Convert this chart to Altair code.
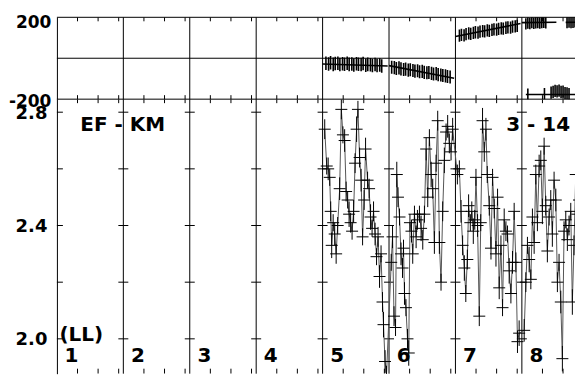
import altair as alt
import pandas as pd

# ---------------- layout categories ----------------
seg_starts = [1, 2, 3, 4, 5, 6, 7, 8]
seg_labels = ["1", "2", "3", "4", "5", "6", "7", "8"]
inner_bounds = [2, 3, 4, 5, 6, 7, 8]
tick_offsets = [0.31, 0.62, 0.93]
bot_levels = [2.0, 2.2, 2.4, 2.6, 2.8]
top_levels = [-200, 200]

# ---------------- top panel data ----------------
top5_x = [5.05, 5.09, 5.12, 5.16, 5.19, 5.23, 5.26, 5.30, 5.33, 5.37, 5.40, 5.44, 5.47,
          5.51, 5.54, 5.58, 5.61, 5.65, 5.68, 5.72, 5.75, 5.79, 5.82, 5.86, 5.89]
top5_y = [-24, -28, -22, -30, -26, -25, -31, -27, -29, -24, -30, -28, -33,
          -27, -29, -31, -26, -34, -30, -32, -35, -31, -36, -33, -38]
top6_x = [6.04, 6.08, 6.11, 6.15, 6.18, 6.22, 6.25, 6.29, 6.32, 6.36, 6.39, 6.43, 6.46,
          6.50, 6.53, 6.57, 6.60, 6.64, 6.67, 6.71, 6.74, 6.78, 6.81, 6.85, 6.88, 6.92]
top6_y = [-44, -46, -50, -47, -52, -55, -53, -58, -56, -60, -63, -61, -66,
          -64, -69, -71, -70, -74, -77, -75, -80, -82, -84, -86, -89, -92]
top7_x = [7.06, 7.09, 7.13, 7.16, 7.20, 7.23, 7.27, 7.30, 7.34, 7.37, 7.41, 7.44, 7.48,
          7.51, 7.55, 7.58, 7.62, 7.65, 7.69, 7.72, 7.76, 7.79, 7.83, 7.86, 7.90, 7.93]
top7_y = [110, 114, 112, 118, 121, 119, 124, 127, 125, 130, 133, 131, 136,
          134, 139, 141, 140, 144, 146, 145, 149, 151, 150, 154, 156, 158]
top8a_x = [8.06, 8.09, 8.12, 8.15, 8.18, 8.21, 8.24, 8.27, 8.30, 8.33, 8.36,
           8.68, 8.71, 8.74, 8.77, 8.80, 8.83, 8.86, 8.89]
top8a_y = [168, 172, 170, 174, 171, 173, 175, 172, 174, 176, 173,
           175, 177, 174, 176, 178, 175, 177, 176]
top8b_x = [8.09, 8.34, 8.44, 8.47, 8.50, 8.53, 8.56, 8.59, 8.62, 8.65, 8.68, 8.71]
top8b_y = [-178, -176, -168, -164, -160, -162, -158, -165, -163, -170, -172, -175]
top_err = {"5": 33, "6": 32, "7": 30, "8a": 28, "8b": 30}

fit_grp = ["s5", "s5", "s6", "s6", "s7", "s7", "s8a", "s8a", "s8b", "s8b", "s8c", "s8c"]
fit_x = [5.0, 5.98, 6.0, 6.98, 7.0, 7.98, 8.0, 8.52, 8.66, 8.95, 8.06, 8.95]
fit_y = [-28, -38, -36, -98, 106, 170, 174, 176, 175, 176, -177, -177]

# ---------------- bottom panel data ----------------
bot5_x = [5.032, 5.062, 5.084, 5.107, 5.122, 5.137, 5.159, 5.182, 5.204, 5.227, 5.257, 5.282,
          5.306, 5.332, 5.354, 5.377, 5.399, 5.422, 5.444, 5.467, 5.489, 5.512, 5.532, 5.557,
          5.580, 5.602, 5.625, 5.647, 5.677, 5.700, 5.722, 5.745, 5.767, 5.790, 5.812, 5.835,
          5.857, 5.880, 5.902, 5.917, 5.940, 5.962]
bot5_v = [2.74, 2.61, 2.60, 2.57, 2.45, 2.33, 2.41, 2.37, 2.30, 2.40, 2.53, 2.81,
          2.72, 2.70, 2.52, 2.49, 2.44, 2.41, 2.38, 2.45, 2.62, 2.74, 2.81, 2.64,
          2.56, 2.36, 2.49, 2.67, 2.56, 2.53, 2.43, 2.39, 2.45, 2.37, 2.29, 2.36,
          2.22, 2.30, 2.13, 2.05, 1.92, 1.87]
bot5_e = [0.035, 0.03, 0.04, 0.03, 0.035, 0.045, 0.03, 0.04, 0.035, 0.03,
          0.04, 0.035, 0.03, 0.04, 0.035, 0.03, 0.045, 0.035, 0.03, 0.04,
          0.035, 0.045, 0.03, 0.035, 0.04, 0.03, 0.035, 0.04, 0.03, 0.035,
          0.045, 0.03, 0.035, 0.04, 0.03, 0.035, 0.04, 0.03, 0.035, 0.045,
          0.04, 0.035]
bot6_x = [6.033, 6.053, 6.075, 6.098, 6.117, 6.135, 6.158, 6.180, 6.203, 6.218, 6.233,
          6.255, 6.278, 6.297, 6.315, 6.338, 6.357, 6.383, 6.408, 6.428, 6.458, 6.483,
          6.508, 6.533, 6.559, 6.583, 6.608, 6.634, 6.658, 6.683, 6.709, 6.733, 6.758,
          6.783, 6.808, 6.833, 6.859, 6.883, 6.908, 6.934, 6.958]
bot6_v = [2.27, 2.36, 2.08, 2.04, 2.58, 2.50, 2.43, 2.30, 2.25, 2.32, 2.16,
          2.11, 2.00, 1.95, 2.41, 2.38, 2.30, 2.44, 2.36, 2.42, 2.44, 2.39,
          2.35, 2.44, 2.67, 2.50, 2.71, 2.58, 2.53, 2.34, 2.62, 2.77, 2.34,
          2.20, 2.45, 2.63, 2.73, 2.75, 2.69, 2.66, 2.74]
bot6_e = [0.03, 0.04, 0.035, 0.03, 0.045, 0.035, 0.03, 0.04, 0.035, 0.03,
          0.04, 0.03, 0.035, 0.045, 0.03, 0.04, 0.035, 0.03, 0.04, 0.035,
          0.03, 0.045, 0.035, 0.03, 0.04, 0.035, 0.03, 0.045, 0.035, 0.04,
          0.03, 0.035, 0.04, 0.03, 0.035, 0.045, 0.03, 0.04, 0.035, 0.03,
          0.04]
bot7_x = [7.029, 7.059, 7.084, 7.108, 7.134, 7.156, 7.179, 7.198, 7.224, 7.246, 7.269,
          7.291, 7.309, 7.333, 7.359, 7.381, 7.408, 7.434, 7.459, 7.479, 7.509, 7.535,
          7.559, 7.584, 7.610, 7.634, 7.659, 7.685, 7.709, 7.734, 7.760, 7.784, 7.809,
          7.835, 7.859, 7.884, 7.910, 7.934, 7.959]
bot7_v = [2.58, 2.60, 2.45, 2.33, 2.25, 2.16, 2.28, 2.47, 2.41, 2.45, 2.38,
          2.42, 2.57, 2.40, 2.08, 2.41, 2.77, 2.66, 2.74, 2.58, 2.47, 2.32,
          2.57, 2.46, 2.30, 2.50, 2.18, 2.33, 2.11, 2.42, 2.38, 2.37, 2.24,
          2.16, 2.27, 2.45, 2.27, 1.99, 2.02]
bot7_e = [0.035, 0.03, 0.04, 0.035, 0.045, 0.03, 0.035, 0.04, 0.03, 0.035,
          0.045, 0.035, 0.03, 0.04, 0.035, 0.03, 0.045, 0.035, 0.04, 0.03,
          0.035, 0.04, 0.03, 0.035, 0.045, 0.03, 0.04, 0.035, 0.03, 0.04,
          0.035, 0.03, 0.045, 0.035, 0.04, 0.03, 0.035, 0.04, 0.045]
bot8_x = [8.035, 8.060, 8.084, 8.110, 8.135, 8.159, 8.185, 8.210, 8.234, 8.260, 8.285,
          8.309, 8.335, 8.360, 8.384, 8.410, 8.435, 8.459, 8.485, 8.511, 8.535, 8.560,
          8.586, 8.610, 8.635, 8.661, 8.685, 8.710, 8.736, 8.760, 8.785, 8.811, 8.835,
          8.860, 8.886, 8.910, 8.935, 8.960]
bot8_v = [2.03, 2.20, 2.33, 2.28, 2.21, 2.43, 2.34, 2.58, 2.41, 2.61, 2.63,
          2.45, 2.68, 2.47, 2.31, 2.43, 2.49, 2.37, 2.56, 2.49, 2.20, 2.27,
          2.13, 1.93, 2.38, 2.42, 2.35, 2.40, 2.45, 2.13, 2.33, 2.58, 2.44,
          2.49, 2.35, 2.55, 2.40, 2.30]
bot8_e = [0.04, 0.035, 0.03, 0.045, 0.035, 0.03, 0.04, 0.035, 0.03, 0.04,
          0.035, 0.045, 0.03, 0.035, 0.04, 0.03, 0.035, 0.045, 0.03, 0.04,
          0.035, 0.03, 0.04, 0.045, 0.035, 0.03, 0.04, 0.035, 0.03, 0.045,
          0.035, 0.04, 0.03, 0.035, 0.04, 0.03, 0.035, 0.04]

ann_text = ["EF - KM", "3 - 14"]
ann_x = [1.353, 7.765]
ann_y = [2.733, 2.733]
ll_text = ["(LL)"]
ll_x = [1.038]
ll_y = [2.014]

# ---------------- tables ----------------
W, H_TOP, H_BOT = 519, 82, 275
FONT = "DejaVu Sans"

top_df = pd.DataFrame({
    "x": top5_x + top6_x + top7_x + top8a_x + top8b_x,
    "y": top5_y + top6_y + top7_y + top8a_y + top8b_y,
    "e": [top_err["5"]] * len(top5_x) + [top_err["6"]] * len(top6_x)
         + [top_err["7"]] * len(top7_x) + [top_err["8a"]] * len(top8a_x)
         + [top_err["8b"]] * len(top8b_x),
})
fit_df = pd.DataFrame({"g": fit_grp, "fx": fit_x, "fy": fit_y})
bot_df = pd.DataFrame({
    "x": bot5_x + bot6_x + bot7_x + bot8_x,
    "v": bot5_v + bot6_v + bot7_v + bot8_v,
    "e": bot5_e + bot6_e + bot7_e + bot8_e,
})
bounds_df = pd.DataFrame({"b": inner_bounds})
ticks_df = pd.DataFrame({"t": [s + o for s in seg_starts for o in tick_offsets]})
cross_df = pd.DataFrame([{"b": b, "lv": lv} for b in inner_bounds for lv in bot_levels])
left_df = pd.DataFrame({"b": [1] * len(bot_levels), "lv": bot_levels})
num_df = pd.DataFrame({"nx": [s + 0.22 for s in seg_starts], "ny": [1.94] * len(seg_starts),
                       "lab": seg_labels})
ann_df = pd.DataFrame({"ax": ann_x, "ay": ann_y, "txt": ann_text})
ll_df = pd.DataFrame({"ax": ll_x, "ay": ll_y, "txt": ll_text})

xsc = alt.Scale(domain=[1, 8.8], nice=False, zero=False)
ysc_top = alt.Scale(domain=[-200, 200], nice=False, zero=False)
ysc_bot = alt.Scale(domain=[1.877, 2.846], nice=False, zero=False)

common_axis = dict(title=None, ticks=False, tickSize=0, grid=False, domain=True,
                   domainColor="black", domainWidth=1, labelFont=FONT,
                   labelFontWeight="bold", labelColor="black", labelOverlap=False,
                   labelBound=False, labelFlush=False, minExtent=49, maxExtent=49)
yax_top = alt.Axis(values=top_levels, labelFontSize=17, labelPadding=6,
                   labelExpr="datum.value < 0 ? '-' + abs(datum.value) : '' + datum.value",
                   labelOffset={"condition": {"test": "datum.value > 0", "value": 5}, "value": 2},
                   **common_axis)
yax_bot = alt.Axis(values=bot_levels, labelFontSize=18, labelPadding=10, labelOffset=1,
                   labelExpr="(round(datum.value*10) % 4 == 0) ? format(datum.value, '.1f') : ''",
                   **common_axis)
XN = dict(scale=xsc, axis=None)

# ---------------- top panel ----------------
t_grid = alt.Chart(bounds_df).mark_rule(color="black", strokeWidth=1).encode(
    x=alt.X("b:Q", **XN))
t_hl = alt.Chart(pd.DataFrame({"yb": [200, 0, -200]})).mark_rule(
    color="black", strokeWidth=1).encode(y=alt.Y("yb:Q", scale=ysc_top, axis=yax_top))
t_tick_top = alt.Chart(ticks_df).mark_rule(color="black", clip=True).encode(
    x=alt.X("t:Q", **XN), y=alt.value(0), y2=alt.value(4))
t_tick_bot = alt.Chart(ticks_df).mark_rule(color="black", clip=True).encode(
    x=alt.X("t:Q", **XN), y=alt.value(H_TOP - 4), y2=alt.value(H_TOP))
t_err = alt.Chart(top_df).transform_calculate(
    lo="datum.y - datum.e", hi="datum.y + datum.e").mark_rule(
    color="black", strokeWidth=1.6, clip=True).encode(
    x=alt.X("x:Q", **XN), y=alt.Y("lo:Q", scale=ysc_top, axis=yax_top), y2="hi:Q")
t_fit = alt.Chart(fit_df).mark_line(color="black", strokeWidth=1.6, clip=True).encode(
    x=alt.X("fx:Q", **XN), y=alt.Y("fy:Q", scale=ysc_top, axis=yax_top), detail="g:N")

top = alt.layer(t_grid, t_hl, t_tick_top, t_tick_bot, t_err, t_fit).properties(
    width=W, height=H_TOP)

# ---------------- bottom panel ----------------
b_grid = alt.Chart(bounds_df).mark_rule(color="black", strokeWidth=1).encode(
    x=alt.X("b:Q", **XN))
b_cross = alt.Chart(cross_df).mark_rule(color="black", xOffset=-5, x2Offset=5).encode(
    x=alt.X("b:Q", **XN), x2="b:Q", y=alt.Y("lv:Q", scale=ysc_bot, axis=yax_bot))
b_left = alt.Chart(left_df).mark_rule(color="black", xOffset=0, x2Offset=6).encode(
    x=alt.X("b:Q", **XN), x2="b:Q", y=alt.Y("lv:Q", scale=ysc_bot, axis=yax_bot))
b_tick_top = alt.Chart(ticks_df).mark_rule(color="black", clip=True).encode(
    x=alt.X("t:Q", **XN), y=alt.value(0), y2=alt.value(4))
b_tick_bot = alt.Chart(ticks_df).mark_rule(color="black", clip=True).encode(
    x=alt.X("t:Q", **XN), y=alt.value(H_BOT - 5), y2=alt.value(H_BOT))
b_line = alt.Chart(bot_df).mark_line(color="#555555", strokeWidth=1, clip=True).encode(
    x=alt.X("x:Q", **XN), y=alt.Y("v:Q", scale=ysc_bot, axis=yax_bot))
b_verr = alt.Chart(bot_df).transform_calculate(
    lo="datum.v - datum.e", hi="datum.v + datum.e").mark_rule(
    color="black", strokeWidth=1, clip=True).encode(
    x=alt.X("x:Q", **XN), y=alt.Y("lo:Q", scale=ysc_bot, axis=yax_bot), y2="hi:Q")
b_herr = alt.Chart(bot_df).mark_rule(
    color="black", strokeWidth=1, clip=True, xOffset=-6, x2Offset=6).encode(
    x=alt.X("x:Q", **XN), x2="x:Q", y=alt.Y("v:Q", scale=ysc_bot, axis=yax_bot))
b_ann = alt.Chart(ann_df).mark_text(font=FONT, fontWeight="bold", fontSize=20,
                                    align="left", baseline="alphabetic", color="black").encode(
    x=alt.X("ax:Q", **XN), y=alt.Y("ay:Q", scale=ysc_bot, axis=yax_bot), text="txt:N")
b_ll = alt.Chart(ll_df).mark_text(font=FONT, fontWeight="bold", fontSize=20,
                                  align="left", baseline="middle", color="black").encode(
    x=alt.X("ax:Q", **XN), y=alt.Y("ay:Q", scale=ysc_bot, axis=yax_bot), text="txt:N")
b_num = alt.Chart(num_df).mark_text(font=FONT, fontWeight="bold", fontSize=20,
                                    align="center", baseline="middle", color="black").encode(
    x=alt.X("nx:Q", **XN), y=alt.Y("ny:Q", scale=ysc_bot, axis=yax_bot), text="lab:N")

bottom = alt.layer(b_grid, b_cross, b_left, b_tick_top, b_tick_bot, b_line, b_verr,
                   b_herr, b_ann, b_ll, b_num).properties(width=W, height=H_BOT)

chart = alt.vconcat(top, bottom, spacing=0, bounds="flush").properties(
    padding={"left": 0, "top": 5, "right": 0, "bottom": 0}
).configure_view(stroke=None).configure_axis(grid=False)

chart.save("out.html", embed_options={"renderer": "svg", "actions": False})
